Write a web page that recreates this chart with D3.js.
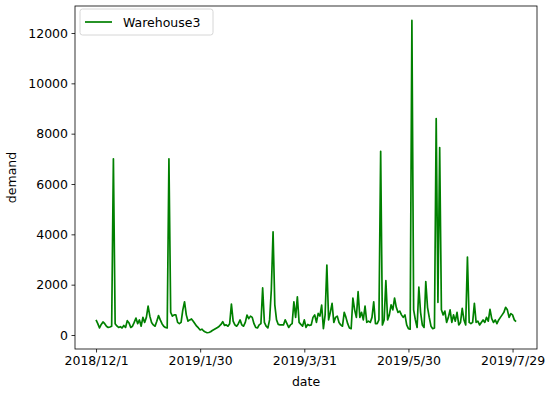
<!DOCTYPE html>
<html><head><meta charset="utf-8">
<script src="https://cdn.jsdelivr.net/npm/d3@7/dist/d3.min.js"></script>
<style>body{margin:0;background:#fff;} svg{display:block;font-family:"DejaVu Sans",sans-serif;}</style>
</head><body><svg id="c" width="550" height="393"></svg>
<script>
const startDate = "2018-12-01";
const seriesName = "Warehouse3";
const demand = [
600,450,280,420,520,450,350,300,320,350,
7000,450,360,300,330,280,380,300,570,480,
300,350,500,675,450,600,350,700,500,700,
1150,750,500,400,350,550,770,600,450,350,
300,280,7000,900,750,800,800,500,450,500,
1000,1320,800,550,600,640,550,450,350,280,
200,230,160,120,90,100,130,180,220,260,
300,350,420,530,380,400,350,450,1230,550,
400,350,450,600,400,350,500,795,650,750,
700,450,300,280,400,450,1870,500,350,280,
600,1800,4100,1200,600,420,400,400,400,600,
450,300,400,450,1320,700,1520,500,420,350,
600,300,420,380,400,700,800,500,860,750,
1190,250,800,2780,600,900,1260,500,700,750,
500,400,350,900,700,450,280,250,1470,1000,
700,1720,700,900,600,1150,500,550,500,700,
1320,450,450,600,7300,400,600,2160,600,800,
1200,1000,1470,1100,900,950,800,700,800,400,
250,230,12500,1000,600,300,1900,900,400,300,
2120,1100,700,350,250,280,8600,1300,7450,1000,
800,950,500,700,1000,500,800,550,900,400,
500,1060,600,400,3100,500,450,500,1260,500,
550,400,500,600,500,700,550,1020,650,500,
600,450,600,700,800,900,1100,1000,700,850,
800,600,530
];
const xTickLabels = ["2018/12/1","2019/1/30","2019/3/31","2019/5/30","2019/7/29"];
const yTicks = [0,2000,4000,6000,8000,10000,12000];

const parse = d3.timeParse("%Y-%m-%d");
const t0 = parse(startDate);
const data = demand.map((v,i)=>({date:d3.timeDay.offset(t0,i), v}));

const L=75, R=537, T=6, B=349;
const svg = d3.select("#c");
const n = data.length-1;
const pad = n*0.05;
const x = d3.scaleTime()
  .domain([d3.timeHour.offset(t0,-pad*24), d3.timeHour.offset(t0,(n+pad)*24)])
  .range([L,R]);
const pxPer = (335-33)/12000;
const y = d3.scaleLinear().domain([-(B-335)/pxPer, (335-T)/pxPer]).range([B,T]);

const fs = "12.5px";
// line
svg.append("path").datum(data)
  .attr("fill","none").attr("stroke","#008000").attr("stroke-width",1.7)
  .attr("stroke-linejoin","round")
  .attr("d", d3.line().x(d=>x(d.date)).y(d=>y(d.v)));

// frame
svg.append("rect").attr("x",L).attr("y",T).attr("width",R-L).attr("height",B-T)
  .attr("fill","none").attr("stroke","#000").attr("stroke-width",0.8);

const fmt = d3.timeFormat("%Y/%-m/%-d");
const xTickDates = xTickLabels.map(s=>d3.timeParse("%Y/%m/%d")(s));
const xAxis = d3.axisBottom(x).tickValues(xTickDates).tickFormat(fmt).tickSize(3.5).tickPadding(3.5);
const gx = svg.append("g").attr("transform",`translate(0,${B})`).call(xAxis);
gx.select(".domain").remove();
gx.selectAll("text").attr("font-size",fs).attr("fill","#000").attr("font-family","DejaVu Sans");
gx.selectAll("line").attr("stroke","#000").attr("stroke-width",0.8);

const yAxis = d3.axisLeft(y).tickValues(yTicks).tickFormat(d3.format("d")).tickSize(3.5).tickPadding(3.5);
const gy = svg.append("g").attr("transform",`translate(${L},0)`).call(yAxis);
gy.select(".domain").remove();
gy.selectAll("text").attr("font-size",fs).attr("fill","#000").attr("font-family","DejaVu Sans");
gy.selectAll("line").attr("stroke","#000").attr("stroke-width",0.8);

svg.append("text").attr("x",(L+R)/2).attr("y",386).attr("text-anchor","middle")
  .attr("font-size",fs).text("date");
svg.append("text").attr("transform",`translate(16,${(T+B)/2}) rotate(-90)`).attr("text-anchor","middle")
  .attr("font-size",fs).text("demand");

// legend
const lg = svg.append("g");
lg.append("rect").attr("x",80).attr("y",9).attr("width",133).attr("height",26).attr("rx",2.5)
  .attr("fill","#fff").attr("fill-opacity",0.8).attr("stroke","#ccc").attr("stroke-width",0.8);
lg.append("line").attr("x1",85).attr("x2",112).attr("y1",22).attr("y2",22)
  .attr("stroke","#008000").attr("stroke-width",1.7);
lg.append("text").attr("x",123).attr("y",26.5).attr("font-size",fs).text(seriesName);
</script></body></html>
